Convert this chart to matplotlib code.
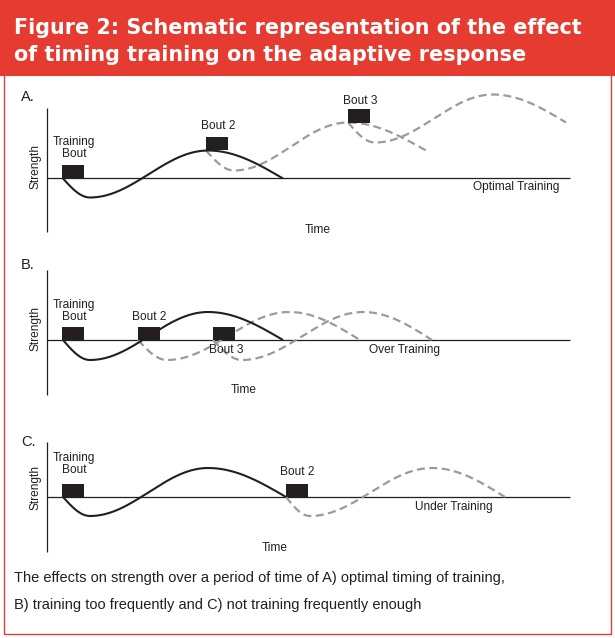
import numpy as np
import matplotlib
matplotlib.use("Agg")
import matplotlib.pyplot as plt
from matplotlib.patches import Rectangle

# ---------------- data (keypoints) ----------------
# each curve: start, trough, peak, end  (x = time, y = strength above baseline)
A_solid_x = [63, 90, 208, 283];  A_solid_y = [0, -19, 28, 0]
A_dash1_x = [206, 234, 348, 426]; A_dash1_y = [28, 8, 56, 28]
A_dash2_x = [348, 375, 493, 566]; A_dash2_y = [56, 36, 84, 56]
A_bout_x = [62, 206, 348];        A_bout_level = [0, 28, 56]

B_solid_x = [63, 90, 208, 283];  B_solid_y = [0, -20, 28, 0]
B_dash1_x = [138, 167, 289, 360]; B_dash1_y = [0, -20, 28, 0]
B_dash2_x = [213, 242, 363, 432]; B_dash2_y = [0, -20, 28, 0]
B_bout_x = [62, 138, 213];        B_bout_level = [0, 0, 0]

C_solid_x = [63, 90, 208, 286];  C_solid_y = [0, -19, 29, 0]
C_dash1_x = [286, 310, 432, 505]; C_dash1_y = [0, -19, 29, 0]
C_bout_x = [62, 286];             C_bout_level = [0, 0]

panel_letters = ["A.", "B.", "C."]
outcome_labels = ["Optimal Training", "Over Training", "Under Training"]
title_lines = ["Figure 2: Schematic representation of the effect",
               "of timing training on the adaptive response"]
caption_lines = ["The effects on strength over a period of time of A) optimal timing of training,",
                 "B) training too frequently and C) not training frequently enough"]

# ---------------- styling ----------------
W, H = 615, 638
RED = "#E63B30"
INK = "#231F20"
GREY = "#9B9B9B"
LABEL_FONT = ["Liberation Sans", "DejaVu Sans"]
TITLE_FONT = ["DejaVu Sans"]

fig = plt.figure(figsize=(W / 100, H / 100), dpi=100)
fig.patch.set_facecolor("white")
renderer = fig.canvas.get_renderer()


def fit_text(t, target_px):
    """scale a text's font size so its rendered width matches target_px"""
    for _ in range(3):
        w = t.get_window_extent(renderer=renderer).width
        t.set_fontsize(t.get_fontsize() * target_px / w)


# background axes in pixel coordinates (frame, title band, caption)
bg = fig.add_axes([0, 0, 1, 1])
bg.set_xlim(0, W)
bg.set_ylim(H, 0)
bg.axis("off")
bg.add_patch(Rectangle((0, 0), W, 75.5, facecolor=RED, edgecolor="none"))
bg.add_patch(Rectangle((3.5, 70), W - 7.5, H - 74.5, facecolor="none",
                       edgecolor=RED, linewidth=1.0))
t1 = bg.text(14, 28, title_lines[0], color="white", fontsize=15, fontweight="bold",
             family=TITLE_FONT, va="center", ha="left")
t2 = bg.text(14, 55, title_lines[1], color="white", fontsize=15, fontweight="bold",
             family=TITLE_FONT, va="center", ha="left")
fit_text(t1, 566)
t2.set_fontsize(t1.get_fontsize())
c1 = bg.text(14, 578, caption_lines[0], color=INK, fontsize=10.4, family=LABEL_FONT,
             va="center", ha="left")
c2 = bg.text(14, 605, caption_lines[1], color=INK, fontsize=10.4, family=LABEL_FONT,
             va="center", ha="left")
fit_text(c1, 491)
c2.set_fontsize(c1.get_fontsize())


def wave(xk, yk, n=80):
    """smooth sketch through start, trough, peak, end keypoints"""
    x0, x1, x2, x3 = xk
    y0, y1, y2, y3 = yk
    t = np.linspace(0, 1, n)
    xs = np.concatenate([x0 + (x1 - x0) * t,
                         x1 + (x2 - x1) * t,
                         x2 + (x3 - x2) * t])
    ys = np.concatenate([y0 + (y1 - y0) * np.sin(np.pi / 2 * t),
                         y1 + (y2 - y1) * (1 - np.cos(np.pi * t)) / 2,
                         y2 + (y3 - y2) * (1 - np.cos(np.pi / 2 * t))])
    return xs, ys


def make_panel(top, bottom, base):
    ax = fig.add_axes([0, 1 - bottom / H, 1, (bottom - top) / H])
    ax.set_xlim(0, W)
    ax.set_ylim(base - bottom, base - top)
    ax.axis("off")
    ax.patch.set_alpha(0)
    return ax


panels = [
    dict(top=85, bottom=245, base=178.5, axis=(108, 232),
         solid=(A_solid_x, A_solid_y), dashes=[(A_dash1_x, A_dash1_y), (A_dash2_x, A_dash2_y)],
         bouts=(A_bout_x, A_bout_level),
         labels=[("Training\nBout", 74, 148, "center"), ("Bout 2", 218, 126, "center"),
                 ("Bout 3", 360, 101, "center")],
         letter_y=97, strength_y=167, outcome=(473, 187), time=(318, 230)),
    dict(top=250, bottom=405, base=340, axis=(270, 395),
         solid=(B_solid_x, B_solid_y), dashes=[(B_dash1_x, B_dash1_y), (B_dash2_x, B_dash2_y)],
         bouts=(B_bout_x, B_bout_level),
         labels=[("Training\nBout", 74, 311, "center"), ("Bout 2", 149, 317, "center"),
                 ("Bout 3", 226, 350, "center")],
         letter_y=265, strength_y=328, outcome=(369, 350), time=(244, 390)),
    dict(top=425, bottom=560, base=497, axis=(442, 552),
         solid=(C_solid_x, C_solid_y), dashes=[(C_dash1_x, C_dash1_y)],
         bouts=(C_bout_x, C_bout_level),
         labels=[("Training\nBout", 74, 464, "center"), ("Bout 2", 297, 472, "center")],
         letter_y=442, strength_y=487, outcome=(415, 507), time=(275, 548)),
]

for p, letter, outcome in zip(panels, panel_letters, outcome_labels):
    base = p["base"]
    ax = make_panel(p["top"], p["bottom"], base)
    py = lambda v: base - v  # pixel row -> strength units
    # axes lines
    ax.plot([47, 47], [py(p["axis"][0]), py(p["axis"][1])], color=INK, lw=0.9,
            solid_capstyle="butt")
    ax.plot([47, 570], [0, 0], color=INK, lw=0.9, solid_capstyle="butt")
    # dashed follow-up responses
    for dx, dy in p["dashes"]:
        xs, ys = wave(dx, dy)
        ax.plot(xs, ys, color=GREY, lw=1.6, dashes=(3.6, 2.0), zorder=2)
    # solid first response
    xs, ys = wave(*p["solid"])
    ax.plot(xs, ys, color=INK, lw=1.5, zorder=3, solid_capstyle="butt")
    # training bouts
    bx, bl = p["bouts"]
    ax.bar(bx, [13.5] * len(bx), width=22, bottom=bl, align="edge", color=INK,
           edgecolor="none", zorder=4)
    # texts
    for txt, tx, ty, ha in p["labels"]:
        ax.text(tx, py(ty), txt, ha=ha, va="center", fontsize=8.6, color=INK,
                family=LABEL_FONT, linespacing=0.95)
    ax.text(21, py(p["letter_y"]), letter, ha="left", va="center", fontsize=10.5,
            color=INK, family=LABEL_FONT)
    ax.text(36, py(p["strength_y"]), "Strength", rotation=90, ha="center",
            va="center", fontsize=8.6, color=INK, family=LABEL_FONT)
    ax.text(p["outcome"][0], py(p["outcome"][1]), outcome, ha="left", va="center",
            fontsize=8.6, color=INK, family=LABEL_FONT)
    ax.text(p["time"][0], py(p["time"][1]), "Time", ha="center", va="center",
            fontsize=8.6, color=INK, family=LABEL_FONT)

fig.savefig("out.png", dpi=100, facecolor="white")
